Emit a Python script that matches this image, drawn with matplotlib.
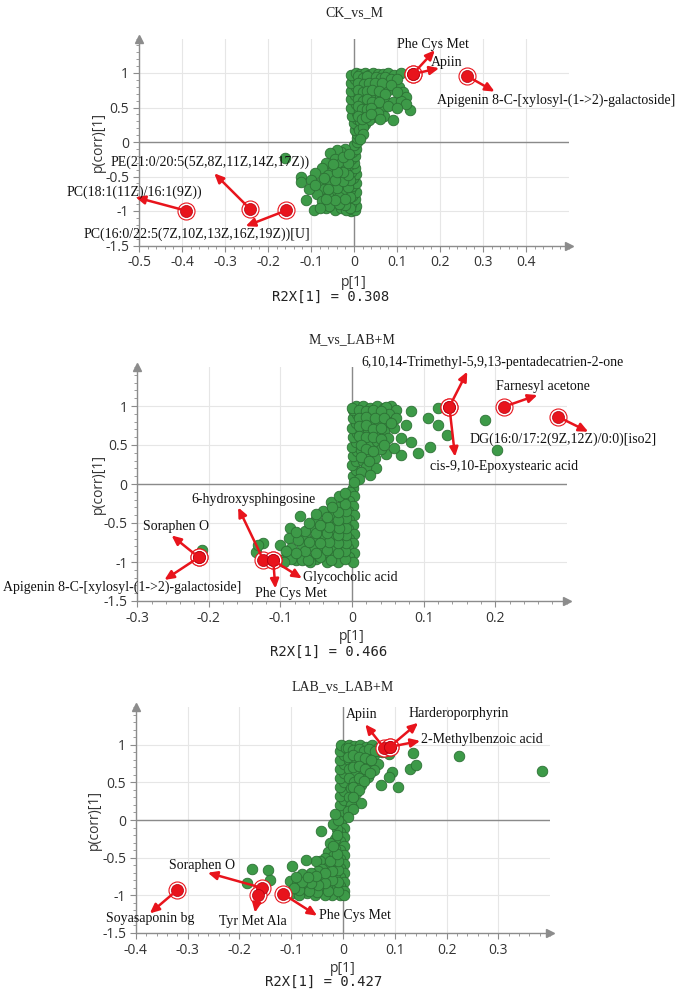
import numpy as np
import matplotlib
matplotlib.use('Agg')
import matplotlib.pyplot as plt
from matplotlib.ticker import AutoMinorLocator

ck_green = [
    (-0.008, -1.0), (0.002, -0.99), (-0.015, -0.97), (0.004, -0.93), (-0.006, -0.9), (-0.012, -0.85),
    (0.003, -0.83), (-0.005, -0.78), (0.004, -0.72), (-0.01, -0.7), (-0.004, -0.64), (0.004, -0.6),
    (-0.012, -0.57), (-0.003, -0.52), (0.004, -0.47), (-0.008, -0.43), (0.002, -0.38), (-0.012, -0.33),
    (0.0, -0.3), (-0.006, -0.24), (0.003, -0.2), (-0.004, -0.14), (0.004, -0.1), (0.0, -0.05),
    (0.006, 0.0), (0.008, 0.06),
    (0.006, 0.12), (0.002, 0.18), (0.01, 0.22), (0.0, 0.28), (0.008, 0.33), (-0.004, 0.38),
    (0.006, 0.42), (-0.006, 0.5), (0.004, 0.55), (-0.006, 0.62), (0.002, 0.68), (-0.006, 0.74),
    (0.004, 0.8), (-0.006, 0.86), (0.002, 0.92), (-0.006, 0.97), (0.004, 1.0),
    (0.015, 0.98), (0.025, 1.0), (0.035, 0.97), (0.045, 1.0), (0.055, 0.99), (0.068, 0.98),
    (0.08, 1.0), (0.092, 0.97), (0.11, 1.0),
    (0.018, 0.9), (0.03, 0.88), (0.042, 0.92), (0.058, 0.9), (0.075, 0.88), (0.095, 0.86), (0.105, 0.8),
    (0.015, 0.8), (0.028, 0.78), (0.04, 0.82), (0.05, 0.76), (0.065, 0.8), (0.08, 0.76), (0.115, 0.73),
    (0.12, 0.65), (0.012, 0.7), (0.022, 0.66), (0.035, 0.7), (0.048, 0.64), (0.06, 0.68), (0.072, 0.6),
    (0.09, 0.58), (0.11, 0.6), (0.015, 0.58), (0.025, 0.52), (0.038, 0.56), (0.05, 0.48), (0.065, 0.5),
    (0.13, 0.46), (0.12, 0.55), (0.012, 0.45), (0.022, 0.4), (0.032, 0.42), (0.045, 0.36), (0.07, 0.38),
    (0.09, 0.32), (0.015, 0.3), (0.025, 0.26), (0.035, 0.32), (0.012, 0.18), (0.02, 0.22),
    (0.01, 0.95), (0.02, 0.93), (0.03, 0.95), (0.05, 0.94), (0.062, 0.93), (0.072, 0.94), (0.085, 0.92),
    (0.1, 0.92), (0.01, 0.85), (0.024, 0.84), (0.036, 0.86), (0.048, 0.85), (0.066, 0.85), (0.085, 0.82),
    (0.1, 0.72), (0.01, 0.75), (0.02, 0.72), (0.03, 0.74), (0.042, 0.75), (0.058, 0.74), (0.072, 0.7),
    (0.01, 0.62), (0.02, 0.6), (0.03, 0.62), (0.042, 0.58), (0.058, 0.58), (0.08, 0.52), (0.1, 0.5),
    (0.01, 0.52), (0.018, 0.48), (0.03, 0.48), (0.04, 0.5), (0.055, 0.42), (0.01, 0.38), (0.018, 0.34),
    (0.028, 0.36), (0.04, 0.4), (0.06, 0.34), (0.02, 0.12), (0.015, 0.05),
    (-0.02, -0.1), (-0.03, -0.15), (-0.04, -0.12), (-0.055, -0.16), (-0.045, -0.25), (-0.03, -0.3),
    (-0.065, -0.3), (-0.075, -0.38), (-0.05, -0.4), (-0.02, -0.4), (-0.09, -0.45), (-0.06, -0.48),
    (-0.035, -0.5), (-0.124, -0.5), (-0.124, -0.58), (-0.1, -0.55), (-0.08, -0.6), (-0.055, -0.6),
    (-0.03, -0.62), (-0.07, -0.68), (-0.045, -0.7), (-0.02, -0.72), (-0.085, -0.75), (-0.06, -0.78),
    (-0.035, -0.8), (-0.112, -0.84), (-0.075, -0.86), (-0.05, -0.9), (-0.025, -0.88), (-0.094, -0.99),
    (-0.066, -0.96), (-0.045, -0.98), (-0.03, -0.96), (-0.018, -0.99), (-0.16, -0.23),
    (-0.01, -0.95), (-0.02, -0.92), (-0.035, -0.9), (-0.058, -0.93), (-0.08, -0.95), (-0.01, -0.8),
    (-0.022, -0.82), (-0.045, -0.84), (-0.065, -0.82), (-0.015, -0.65), (-0.04, -0.66), (-0.06, -0.68),
    (-0.01, -0.55), (-0.025, -0.56), (-0.045, -0.55), (-0.07, -0.52), (-0.015, -0.48), (-0.025, -0.44),
    (-0.04, -0.44), (-0.015, -0.3), (-0.025, -0.22), (-0.012, -0.18), (-0.05, -0.32), (-0.105, -0.68),
    (-0.09, -0.62),
]
ck_red_x = [0.137, 0.137, 0.262, -0.391, -0.241, -0.157]
ck_red_y = [0.985, 0.985, 0.96, -0.995, -0.975, -0.99]
ck_labels = ['Phe Cys Met', 'Apiin', 'Apigenin 8-C-[xylosyl-(1->2)-galactoside]',
             'PC(18:1(11Z)/16:1(9Z))', 'PE(21:0/20:5(5Z,8Z,11Z,14Z,17Z))',
             'PC(16:0/22:5(7Z,10Z,13Z,16Z,19Z))[U]']

m_green = [
    (0.002, 0.1), (0.005, 0.18), (0.0, 0.25), (0.006, 0.3), (0.002, 0.36), (0.007, 0.42), (0.0, 0.48),
    (0.006, 0.54), (0.001, 0.6), (0.007, 0.66), (0.0, 0.72), (0.006, 0.78), (0.001, 0.84), (0.007, 0.9),
    (0.002, 0.95), (0.006, 1.0), (0.0, 0.98),
    (0.015, 1.0), (0.025, 0.98), (0.035, 1.0), (0.045, 0.97), (0.055, 1.0), (0.061, 0.95), (0.048, 0.99),
    (0.082, 0.94), (0.015, 0.9), (0.028, 0.92), (0.04, 0.88), (0.052, 0.9), (0.062, 0.84), (0.076, 0.76),
    (0.015, 0.78), (0.025, 0.82), (0.038, 0.76), (0.05, 0.8), (0.012, 0.68), (0.022, 0.7), (0.032, 0.64),
    (0.045, 0.68), (0.05, 0.59), (0.068, 0.59), (0.083, 0.54), (0.015, 0.56), (0.025, 0.5), (0.035, 0.55),
    (0.048, 0.39), (0.068, 0.37), (0.092, 0.4), (0.109, 0.48), (0.012, 0.44), (0.022, 0.38),
    (0.032, 0.33), (0.034, 0.2), (0.015, 0.3), (0.02, 0.22), (0.012, 0.15), (0.106, 0.85), (0.12, 0.97),
    (0.12, 0.76), (0.132, 0.63), (0.186, 0.82), (0.2025, 0.44), (0.04, 0.45), (0.058, 0.72),
    (0.01, 0.95), (0.02, 0.94), (0.03, 0.95), (0.04, 0.93), (0.01, 0.85), (0.02, 0.86), (0.032, 0.84),
    (0.045, 0.84), (0.01, 0.74), (0.02, 0.76), (0.03, 0.7), (0.04, 0.72), (0.055, 0.78), (0.01, 0.62),
    (0.02, 0.6), (0.03, 0.6), (0.04, 0.58), (0.012, 0.5), (0.02, 0.45), (0.03, 0.42), (0.045, 0.5),
    (0.058, 0.46), (0.012, 0.35), (0.024, 0.3), (0.025, 0.12), (0.01, 0.06),
    (0.002, -0.05), (-0.003, -0.1), (0.003, -0.16), (-0.004, -0.22), (0.002, -0.28), (-0.005, -0.34),
    (0.003, -0.4), (-0.004, -0.46), (0.002, -0.52), (-0.005, -0.58), (0.003, -0.64), (-0.004, -0.7),
    (0.002, -0.76), (-0.005, -0.82), (0.003, -0.88), (-0.004, -0.94), (0.002, -1.0), (0.003, 0.03),
    (-0.012, -0.2), (-0.02, -0.3), (-0.03, -0.23), (-0.015, -0.4), (-0.028, -0.38), (-0.04, -0.35),
    (-0.01, -0.5), (-0.022, -0.52), (-0.035, -0.48), (-0.05, -0.45), (-0.073, -0.41), (-0.015, -0.62),
    (-0.028, -0.6), (-0.042, -0.58), (-0.058, -0.55), (-0.087, -0.56), (-0.012, -0.72), (-0.025, -0.7),
    (-0.038, -0.68), (-0.052, -0.7), (-0.066, -0.66), (-0.088, -0.69), (-0.015, -0.82), (-0.028, -0.8),
    (-0.042, -0.84), (-0.056, -0.8), (-0.07, -0.78), (-0.085, -0.82), (-0.1, -0.78), (-0.012, -0.92),
    (-0.025, -0.94), (-0.038, -0.9), (-0.05, -0.96), (-0.064, -0.92), (-0.078, -0.98), (-0.092, -0.93),
    (-0.1, -0.98), (-0.02, -1.0), (-0.035, -1.0), (-0.058, -1.0), (-0.07, -0.98), (-0.125, -0.76),
    (-0.134, -0.87), (-0.131, -0.78), (-0.209, -0.85),
    (-0.01, -0.96), (-0.03, -0.97), (-0.045, -0.93), (-0.062, -0.97), (-0.085, -0.96), (-0.095, -1.0),
    (-0.01, -0.86), (-0.02, -0.88), (-0.035, -0.85), (-0.05, -0.88), (-0.065, -0.86), (-0.078, -0.88),
    (-0.092, -0.86), (-0.008, -0.76), (-0.02, -0.76), (-0.032, -0.74), (-0.045, -0.76), (-0.06, -0.74),
    (-0.075, -0.72), (-0.008, -0.65), (-0.02, -0.66), (-0.035, -0.63), (-0.05, -0.63), (-0.065, -0.6),
    (-0.078, -0.62), (-0.008, -0.56), (-0.018, -0.57), (-0.032, -0.55), (-0.045, -0.52), (-0.06, -0.5),
    (-0.008, -0.44), (-0.02, -0.46), (-0.035, -0.42), (-0.05, -0.38), (-0.008, -0.34), (-0.02, -0.36),
    (-0.028, -0.3), (-0.01, -0.26), (-0.018, -0.16), (-0.01, -0.12),
]
m_red_x = [0.136, 0.136, 0.212, 0.288, -0.214, -0.214, -0.124, -0.110, -0.110]
m_red_y = [0.99, 0.99, 0.99, 0.86, -0.94, -0.94, -0.97, -0.98, -0.98]
m_labels = ['6,10,14-Trimethyl-5,9,13-pentadecatrien-2-one', 'cis-9,10-Epoxystearic acid',
            'Farnesyl acetone', 'DG(16:0/17:2(9Z,12Z)/0:0)[iso2]', 'Soraphen O',
            'Apigenin 8-C-[xylosyl-(1->2)-galactoside]', '6-hydroxysphingosine',
            'Phe Cys Met', 'Glycocholic acid']

lab_green = [
    (-0.005, 0.05), (0.0, 0.12), (-0.006, 0.2), (0.002, 0.26), (-0.005, 0.32), (0.001, 0.38),
    (-0.006, 0.44), (0.002, 0.5), (-0.005, 0.56), (0.001, 0.62), (-0.006, 0.68), (0.002, 0.74),
    (-0.005, 0.8), (0.001, 0.86), (-0.006, 0.92), (0.002, 0.98), (-0.004, 1.0), (0.006, 0.95),
    (0.012, 1.0), (0.022, 0.98), (0.032, 1.0), (0.045, 0.97), (0.056, 0.99), (0.068, 0.96),
    (0.012, 0.9), (0.025, 0.92), (0.038, 0.88), (0.05, 0.9), (0.06, 0.86), (0.075, 0.9), (0.089, 0.88),
    (0.012, 0.8), (0.022, 0.76), (0.035, 0.8), (0.048, 0.74), (0.068, 0.75), (0.06, 0.66),
    (0.012, 0.68), (0.025, 0.64), (0.038, 0.6), (0.048, 0.57), (0.012, 0.56), (0.022, 0.5),
    (0.035, 0.46), (0.015, 0.42), (0.025, 0.36), (0.012, 0.3), (0.034, 0.23), (0.015, 0.2),
    (0.01, 0.12), (0.094, 0.64), (0.089, 0.57), (0.073, 0.46), (0.107, 0.44), (0.129, 0.68),
    (0.141, 0.73), (0.136, 0.89), (0.224, 0.85), (0.384, 0.65),
    (0.01, 0.95), (0.02, 0.93), (0.03, 0.94), (0.04, 0.92), (0.05, 0.94), (0.062, 0.92), (0.01, 0.84),
    (0.02, 0.86), (0.03, 0.84), (0.042, 0.82), (0.055, 0.8), (0.02, 0.7), (0.03, 0.72), (0.042, 0.68),
    (0.052, 0.62), (0.03, 0.56), (0.04, 0.52), (0.02, 0.44), (0.03, 0.4), (0.02, 0.3), (0.02, 0.14),
    (0.01, 0.04),
    (-0.004, -0.05), (0.002, -0.1), (-0.006, -0.16), (0.001, -0.22), (-0.005, -0.28), (0.002, -0.34),
    (-0.006, -0.4), (0.001, -0.46), (-0.005, -0.52), (0.002, -0.58), (-0.006, -0.64), (0.001, -0.7),
    (-0.005, -0.76), (0.002, -0.82), (-0.006, -0.88), (0.001, -0.94), (-0.005, -1.0), (0.002, -0.99),
    (-0.012, -0.12), (-0.02, -0.05), (-0.015, -0.25), (-0.025, -0.3), (-0.015, -0.38), (-0.028, -0.42),
    (-0.02, -0.48), (-0.035, -0.5), (-0.044, -0.55), (-0.052, -0.54), (-0.071, -0.53), (-0.015, -0.6),
    (-0.028, -0.62), (-0.04, -0.65), (-0.049, -0.68), (-0.062, -0.7), (-0.08, -0.72), (-0.099, -0.61),
    (-0.015, -0.72), (-0.028, -0.75), (-0.04, -0.78), (-0.055, -0.8), (-0.07, -0.82), (-0.102, -0.81),
    (-0.088, -0.85), (-0.015, -0.86), (-0.03, -0.88), (-0.044, -0.94), (-0.06, -0.9), (-0.075, -0.92),
    (-0.022, -0.99), (-0.07, -0.97), (-0.099, -0.97), (-0.085, -1.0), (-0.055, -1.0), (-0.035, -1.0),
    (-0.043, -0.14), (-0.145, -0.66), (-0.176, -0.65), (-0.141, -0.79), (-0.185, -0.84),
    (-0.01, -0.94), (-0.028, -0.94), (-0.05, -0.96), (-0.065, -0.94), (-0.085, -0.93), (-0.01, -0.82),
    (-0.022, -0.8), (-0.035, -0.83), (-0.048, -0.86), (-0.062, -0.84), (-0.08, -0.82), (-0.095, -0.9),
    (-0.01, -0.67), (-0.022, -0.68), (-0.035, -0.7), (-0.052, -0.74), (-0.068, -0.76), (-0.09, -0.76),
    (-0.01, -0.55), (-0.025, -0.55), (-0.012, -0.45), (-0.02, -0.35), (-0.012, -0.2), (-0.01, 0.0),
    (-0.015, 0.08),
]
lab_red_x = [0.080, 0.090, 0.090, -0.320, -0.157, -0.164, -0.116]
lab_red_y = [0.95, 0.97, 0.97, -0.93, -0.90, -0.99, -0.98]
lab_labels = ['Apiin', 'Harderoporphyrin', '2-Methylbenzoic acid', 'Soyasaponin bg',
              'Soraphen O', 'Tyr Met Ala', 'Phe Cys Met']

# ---- annotation layout: arrow heads and label anchors (left, middle) ----
ck_heads = [(0.188, 1.33), (0.198, 1.07), (0.327, 0.73), (-0.508, -0.80), (-0.325, -0.454), (-0.252, -1.22)]
ck_text = [(0.099, 1.42), (0.178, 1.15), (0.193, 0.61), (-0.668, -0.73), (-0.566, -0.294), (-0.628, -1.33)]
m_heads = [(0.161, 1.44), (0.144, 0.35), (0.259, 1.14), (0.330, 0.67), (-0.252, -0.66),
           (-0.262, -1.23), (-0.159, -0.30), (-0.107, -1.34), (-0.070, -1.21)]
m_text = [(0.013, 1.555), (0.109, 0.23), (0.201, 1.25), (0.164, 0.577), (-0.292, -0.55),
          (-0.487, -1.32), (-0.225, -0.20), (-0.135, -1.40), (-0.068, -1.20)]
lab_heads = [(0.043, 1.27), (0.145, 1.29), (0.149, 1.05), (-0.373, -1.24), (-0.261, -0.70),
             (-0.170, -1.23), (-0.050, -1.27)]
lab_text = [(0.005, 1.40), (0.127, 1.41), (0.151, 1.07), (-0.457, -1.31), (-0.335, -0.60),
            (-0.240, -1.35), (-0.047, -1.27)]

W, H = 685, 993
fig = plt.figure(figsize=(W / 100, H / 100), dpi=100)
fig.patch.set_facecolor('white')

SERIF = 'Liberation Serif'
SANS = 'Open Sans'
RED = '#e8141c'
GREEN = '#3d9a48'


def px_rect(left, right, top, bottom):
    return [left / W, 1 - bottom / H, (right - left) / W, (bottom - top) / H]


def draw_panel(rect, xlim, xticks, green, red_x, red_y, labels, heads, texts,
               title, title_px, plabel_px, r2x, r2x_px, ylab_px):
    ax = fig.add_axes(rect)
    ax.set_xlim(*xlim)
    ax.set_ylim(-1.5, 1.5)
    ax.set_xticks(xticks)
    ax.set_yticks([-1.5, -1, -0.5, 0, 0.5, 1])
    ax.set_xticklabels(['%g' % t for t in xticks])
    ax.set_yticklabels(['-1.5', '-1', '-0.5', '0', '0.5', '1'])
    ax.xaxis.set_minor_locator(AutoMinorLocator(5))
    ax.yaxis.set_minor_locator(AutoMinorLocator(5))
    ax.tick_params(which='major', length=4, color='#8c8c8c', labelsize=10,
                   labelcolor='#333333', pad=3)
    ax.tick_params(which='minor', length=2, color='#8c8c8c')
    for lab in ax.get_xticklabels() + ax.get_yticklabels():
        lab.set_family(SANS)
    for s in ['top', 'right']:
        ax.spines[s].set_visible(False)
    for s in ['left', 'bottom']:
        ax.spines[s].set_color('#8c8c8c')
        ax.spines[s].set_linewidth(1.0)
    ax.grid(True, which='major', color='#e6e6e6', lw=0.8)
    ax.set_axisbelow(True)
    ax.axhline(0, color='#8a8a8a', lw=1.0, zorder=1)
    ax.axvline(0, color='#8a8a8a', lw=1.0, zorder=1)
    # axis arrows
    ax.plot(0, 1, marker='^', ms=6, color='#8c8c8c', transform=ax.transAxes, clip_on=False)
    ax.plot(1, 0, marker='>', ms=6, color='#8c8c8c', transform=ax.transAxes, clip_on=False)

    gx = [p[0] for p in green]
    gy = [p[1] for p in green]
    ax.scatter(gx, gy, s=58, c=GREEN, edgecolors='#2c7034', linewidths=0.6, zorder=3)

    ax.scatter(red_x, red_y, s=150, c='white', edgecolors=RED, linewidths=0.8, zorder=4)
    ax.scatter(red_x, red_y, s=75, c=RED, edgecolors='#b00010', linewidths=0.5, zorder=5)

    for rx, ry, lab, hd, tp in zip(red_x, red_y, labels, heads, texts):
        ax.annotate('', xy=hd, xytext=(rx, ry),
                    arrowprops=dict(arrowstyle='-|>,head_length=0.55,head_width=0.25',
                                    color=RED, lw=1.8, shrinkA=4, shrinkB=0),
                    annotation_clip=False, zorder=6)
        ax.text(tp[0], tp[1], lab, ha='left', va='center', fontsize=10,
                family=SERIF, color='#111111', clip_on=False, zorder=7)

    cx = rect[0] + rect[2] / 2
    fig.text(cx, 1 - title_px / H, title, ha='center', va='center', fontsize=10,
             family=SERIF, color='#222222')
    fig.text(cx, 1 - plabel_px / H, 'p[1]', ha='center', va='center', fontsize=10,
             family=SANS, color='#333333')
    fig.text(r2x_px[0] / W, 1 - r2x_px[1] / H, 'R2X[1] = ' + r2x, ha='left', va='center',
             fontsize=10, family='DejaVu Sans Mono', color='#222222')
    fig.text(ylab_px / W, rect[1] + rect[3] / 2, 'p(corr)[1]', rotation=90, ha='center',
             va='center', fontsize=10, family=SANS, color='#333333')
    return ax


draw_panel(px_rect(139, 569, 38.5, 245.5), (-0.5, 0.5),
           [-0.5, -0.4, -0.3, -0.2, -0.1, 0, 0.1, 0.2, 0.3, 0.4],
           ck_green, ck_red_x, ck_red_y, ck_labels, ck_heads, ck_text,
           'CK_vs_M', 13, 282, '0.308', (272, 297), 98)

draw_panel(px_rect(137.2, 566.8, 367, 601), (-0.3, 0.3),
           [-0.3, -0.2, -0.1, 0, 0.1, 0.2],
           m_green, m_red_x, m_red_y, m_labels, m_heads, m_text,
           'M_vs_LAB+M', 340, 637, '0.466', (270, 652), 98)

draw_panel(px_rect(135.8, 550.2, 707, 933), (-0.4, 0.4),
           [-0.4, -0.3, -0.2, -0.1, 0, 0.1, 0.2, 0.3],
           lab_green, lab_red_x, lab_red_y, lab_labels, lab_heads, lab_text,
           'LAB_vs_LAB+M', 687, 968, '0.427', (265, 982), 94)

fig.savefig('out.png', dpi=100)
